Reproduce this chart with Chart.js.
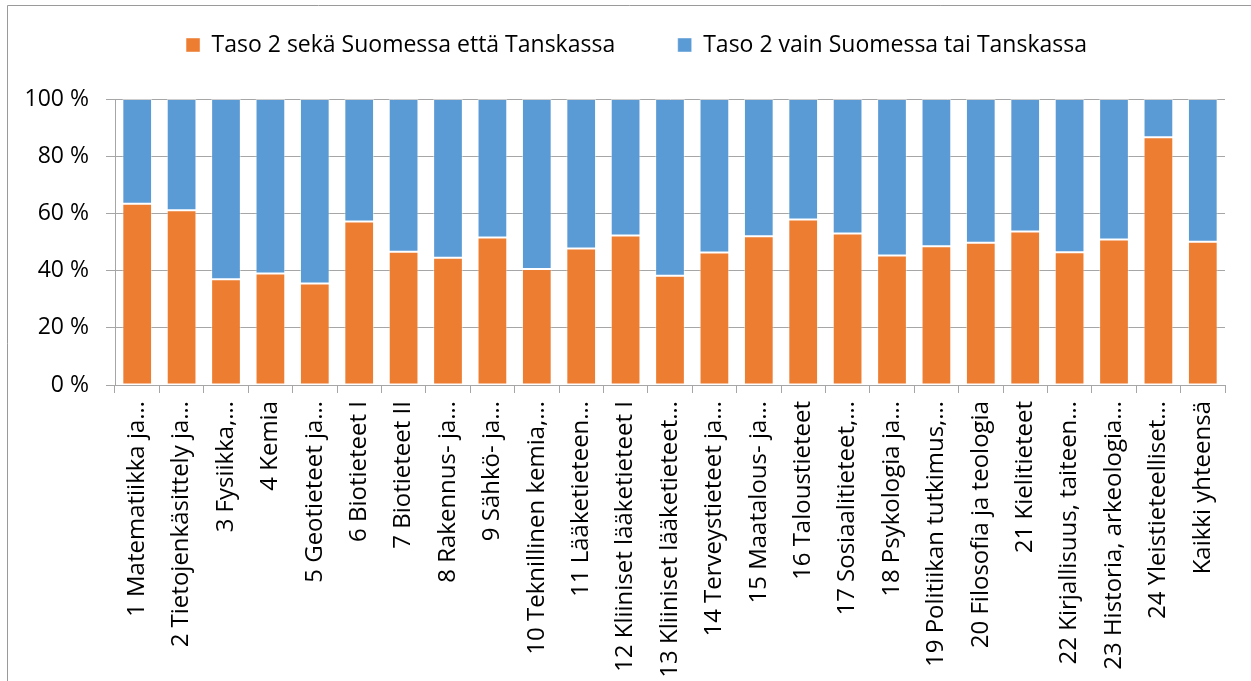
<!DOCTYPE html>
<html>
<head>
<meta charset="utf-8">
<script src="https://cdn.jsdelivr.net/npm/chart.js@4/dist/chart.umd.min.js"></script>
<style>
  html, body { margin: 0; padding: 0; background: #fff; }
  #wrap { width: 1251px; height: 681px; position: relative; }
</style>
</head>
<body>
<div id="wrap"><canvas id="c" width="1251" height="681"></canvas></div>
<script>
const categories = [
  "1 Matematiikka ja…",
  "2 Tietojenkäsittely ja…",
  "3 Fysiikka,…",
  "4 Kemia",
  "5 Geotieteet ja…",
  "6 Biotieteet I",
  "7 Biotieteet II",
  "8 Rakennus- ja…",
  "9 Sähkö- ja…",
  "10 Teknillinen kemia,…",
  "11 Lääketieteen…",
  "12 Kliiniset lääketieteet I",
  "13 Kliiniset lääketieteet…",
  "14 Terveystieteet ja…",
  "15 Maatalous- ja…",
  "16 Taloustieteet",
  "17 Sosiaalitieteet,…",
  "18 Psykologia ja…",
  "19 Politiikan tutkimus,…",
  "20 Filosofia ja teologia",
  "21 Kielitieteet",
  "22 Kirjallisuus, taiteen…",
  "23 Historia, arkeologia…",
  "24 Yleistieteelliset…",
  "Kaikki yhteensä"
];
const seriesNames = ["Taso 2 sekä Suomessa että Tanskassa", "Taso 2 vain Suomessa tai Tanskassa"];
const bothCountries = [63.4, 61.1, 37.0, 39.0, 35.5, 57.2, 46.6, 44.5, 51.6, 40.6, 47.7, 52.3, 38.2, 46.3, 52.0, 57.9, 53.0, 45.3, 48.5, 49.7, 53.7, 46.4, 50.9, 86.6, 50.1];
const oneCountry = [36.6, 38.9, 63.0, 61.0, 64.5, 42.8, 53.4, 55.5, 48.4, 59.4, 52.3, 47.7, 61.8, 53.7, 48.0, 42.1, 47.0, 54.7, 51.5, 50.3, 46.3, 53.6, 49.1, 13.4, 49.9];
const yTicks = [0, 20, 40, 60, 80, 100];

const FONT = "'Open Sans', 'DejaVu Sans', sans-serif";

const framePlugin = {
  id: 'frame',
  beforeDraw(chart) {
    const ctx = chart.ctx;
    ctx.save();
    ctx.fillStyle = '#fff';
    ctx.fillRect(0, 0, chart.width, chart.height);
    ctx.strokeStyle = '#9a9a9a';
    ctx.lineWidth = 1;
    ctx.beginPath();
    ctx.moveTo(7.5, 681);
    ctx.lineTo(7.5, 5.5);
    ctx.lineTo(1251, 5.5);
    ctx.stroke();
    ctx.restore();
  }
};

const legendFitPlugin = {
  id: 'legendFit',
  beforeInit(chart) {
    const orig = chart.legend.fit;
    chart.legend.fit = function () {
      orig.bind(chart.legend)();
      this.height = 128;
    };
  },
  afterLayout(chart) {
    chart.legend.left += 24;
    chart.legend.right += 24;
  }
};

new Chart(document.getElementById('c'), {
  type: 'bar',
  data: {
    labels: categories,
    datasets: [
      { label: seriesNames[0], data: bothCountries, backgroundColor: '#ED7D31', borderColor: 'rgba(255,255,255,0.45)', borderWidth: 1, borderSkipped: false },
      { label: seriesNames[1], data: oneCountry, backgroundColor: '#5B9BD5', borderColor: 'rgba(255,255,255,0.45)', borderWidth: 1, borderSkipped: false }
    ]
  },
  options: {
    responsive: false,
    animation: false,
    devicePixelRatio: 1,
    layout: { padding: { left: 0, right: 26, top: -29, bottom: 0 } },
    datasets: { bar: { barPercentage: 0.67, categoryPercentage: 1.0 } },
    plugins: {
      title: { display: false },
      tooltip: { enabled: false },
      legend: {
        display: true,
        position: 'top',
        align: 'center',
        labels: {
          boxWidth: 14,
          boxHeight: 14,
          padding: 62.5,
          color: '#000',
          font: { family: FONT, size: 23 }
        }
      }
    },
    scales: {
      x: {
        stacked: true,
        offset: true,
        grid: { display: true, drawOnChartArea: false, drawTicks: true, tickLength: 8, color: '#a6a6a6', offset: true },
        border: { display: true, color: '#a6a6a6' },
        ticks: {
          autoSkip: false,
          maxRotation: 90,
          minRotation: 90,
          padding: 8,
          color: '#000',
          font: { family: FONT, size: 24 }
        },
        afterFit(s) { s.height = 296; }
      },
      y: {
        stacked: true,
        min: 0,
        max: 100,
        afterBuildTicks(s) { s.ticks = yTicks.map(v => ({ value: v })); },
        grid: { display: true, drawOnChartArea: true, drawTicks: true, tickLength: 9, color: '#a6a6a6', lineWidth: 1 },
        border: { display: true, color: '#a6a6a6' },
        ticks: {
          padding: 17,
          color: '#000',
          font: { family: FONT, size: 23 },
          callback: v => v + ' %'
        },
        afterFit(s) { s.width = 115; }
      }
    }
  },
  plugins: [framePlugin, legendFitPlugin]
});
</script>
</body>
</html>
